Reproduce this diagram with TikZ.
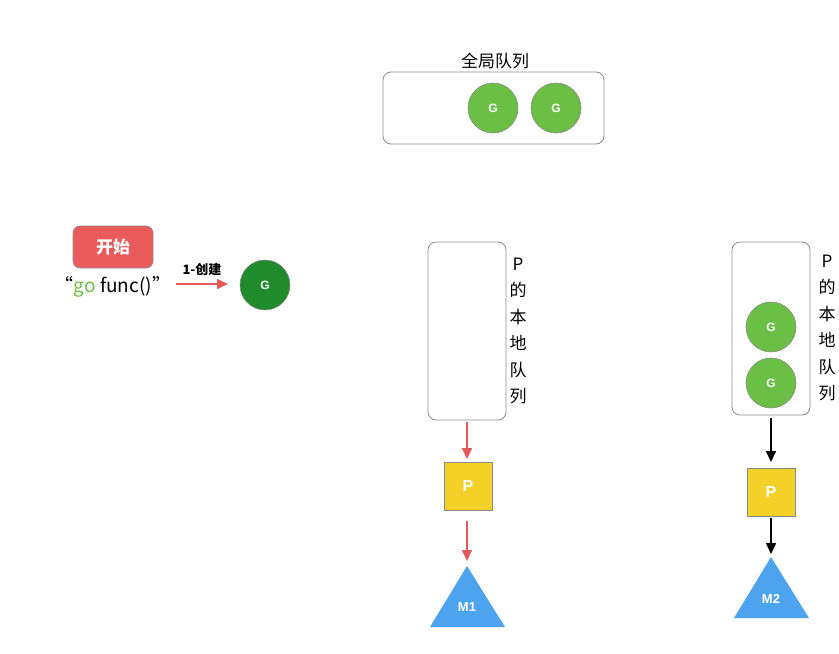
\documentclass[tikz,border=0pt]{standalone}
\usepackage{fontspec}
\setmainfont{Liberation Sans}
\newfontfamily\cjk{Noto Sans CJK SC}
\usetikzlibrary{shapes.geometric,arrows.meta}
\definecolor{gl}{HTML}{6CBF45}
\definecolor{gd}{HTML}{1F8B2C}
\definecolor{startred}{HTML}{E95B5B}
\definecolor{py}{HTML}{F4D128}
\definecolor{mb}{HTML}{4DA3EE}
\definecolor{arrred}{HTML}{E45A5A}
\definecolor{bord}{HTML}{8A8A8A}
\tikzset{
  gnode/.style={circle,draw=bord,line width=0.6pt,fill=gl,minimum size=50pt,inner sep=0pt,text=white,font=\bfseries\fontsize{12}{14}\selectfont},
  queue/.style={draw=bord,rounded corners=8pt,line width=0.8pt},
  pbox/.style={draw=bord,line width=0.6pt,fill=py,minimum width=48pt,minimum height=48pt,inner sep=0pt,text=white,font=\bfseries\fontsize{16}{18}\selectfont},
  mtri/.style={draw=none,fill=mb},
  redarr/.style={draw=arrred,line width=1.6pt,-{Triangle[length=11pt,width=10pt]}},
  blkarr/.style={draw=black,line width=1.6pt,-{Triangle[length=11pt,width=10pt]}},
  vlabel/.style={font=\cjk\fontsize{17}{26.4}\selectfont,align=center,inner sep=0pt},
}
\begin{document}
\begin{tikzpicture}[x=1pt,y=-1pt]
\useasboundingbox (0,0) rectangle (839,654);
% global queue
\draw[queue] (383,72) rectangle (604,144);
\node[font=\cjk\fontsize{17}{18}\selectfont] (gqlabel) at (495,61) {全局队列};
\node[gnode] (g1) at (493,108) {G};
\node[gnode] (g2) at (556,108) {G};
% start
\node[draw=bord,line width=0.6pt,fill=startred,rounded corners=7pt,minimum width=80pt,minimum height=42pt,text=white,font=\cjk\bfseries\fontsize{17}{20}\selectfont] (start) at (113,247) {开始};
\node[font=\cjk\fontsize{19}{20}\selectfont,inner sep=0pt] (gofunc) at (113,287) {“\textcolor{gl}{go} func()”};
\coordinate (c1) at (176,284);
\coordinate (c2) at (228,284);
\draw[redarr] (c1) -- (c2) node[midway,above=7pt,font=\cjk\bfseries\fontsize{13}{14}\selectfont,inner sep=0pt] (lbl) {1-创建};
\node[gnode,fill=gd] (gnew) at (265,285) {G};
% local queue 1
\draw[queue] (428,242) rectangle (506,420);
\coordinate (q1b) at (467,422);
\coordinate (p1t) at (467,459);
\node[vlabel] (v1) at (518,331) {P\\的\\本\\地\\队\\列};
\node[pbox] (p1) at (468,486) {P};
\coordinate (p1b) at (467,521);
\coordinate (m1t) at (467,561);
\draw[redarr] (q1b) -- (p1t);
\draw[redarr] (p1b) -- (m1t);
\fill[mtri] (467,566) -- (505,627) -- (430,627) -- cycle;
\node[text=white,font=\bfseries\fontsize{13}{14}\selectfont] (m1) at (467,607) {M1};
% local queue 2
\draw[queue] (732,242) rectangle (810,415);
\node[gnode] (g3) at (771,327) {G};
\node[gnode] (g4) at (771,383) {G};
\node[vlabel] (v2) at (827,328) {P\\的\\本\\地\\队\\列};
\node[pbox] (p2) at (771,492) {P};
\coordinate (q2b) at (771,418);
\coordinate (p2t) at (771,462);
\coordinate (p2b) at (771,518);
\coordinate (m2t) at (771,554);
\draw[blkarr] (q2b) -- (p2t);
\draw[blkarr] (p2b) -- (m2t);
\fill[mtri] (771,557) -- (809,618) -- (734,618) -- cycle;
\node[text=white,font=\bfseries\fontsize{13}{14}\selectfont] (m2) at (771,599) {M2};
\end{tikzpicture}
\end{document}
